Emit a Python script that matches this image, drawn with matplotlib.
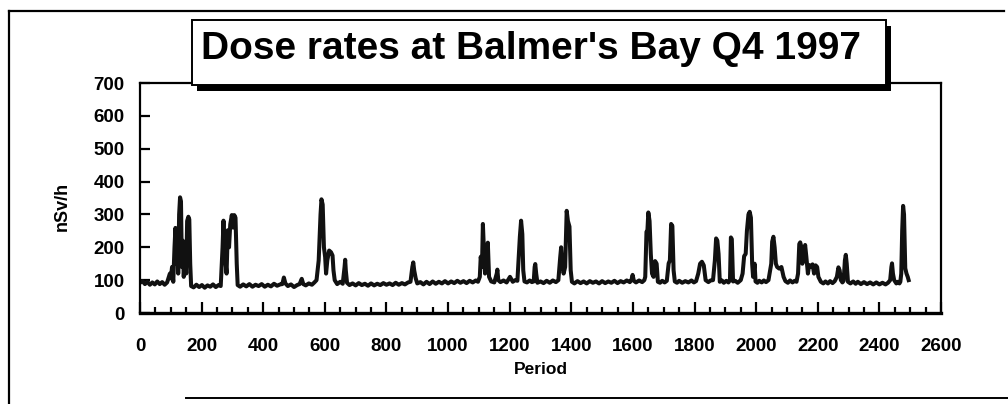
import matplotlib
matplotlib.use('Agg')
import matplotlib.pyplot as plt
from matplotlib.patches import Rectangle
from matplotlib.lines import Line2D
from matplotlib.ticker import MultipleLocator

plt.rcParams['font.family'] = ['Liberation Sans', 'DejaVu Sans']

# values (period, dose rate in nSv/h)
period = [
    # 0 - 330
    0, 8, 16, 24, 32, 40, 48, 56, 64, 72, 80, 88,
    97, 100, 104, 108, 112, 115, 118, 121, 124, 127, 130, 133, 136, 139, 142,
    146, 150, 153, 157, 160, 163, 166,
    174, 183, 192, 201, 210, 219, 228, 237, 246, 255, 262,
    264, 268, 271, 274, 278, 281, 285, 289, 293, 298, 302, 306, 310, 314, 317,
    # 325 - 1100
    325, 335, 345, 355, 365, 375, 385, 395, 405, 415, 425, 435, 445, 455,
    462, 467, 472, 480, 490, 500, 510, 518, 525, 530, 538, 548, 558, 566,
    573, 580, 586, 589, 593, 597, 601, 604, 608, 614, 620, 625, 628, 632,
    640, 650, 658, 664, 666, 668, 672, 680, 690, 700, 710, 720, 730, 740,
    750, 760, 770, 780, 790, 800, 810, 820, 830, 840, 850, 860, 870, 878,
    884, 887, 890, 895, 900, 910, 920, 930, 940, 950, 960, 970, 980, 990,
    1000, 1010, 1020, 1030, 1040, 1050, 1060, 1070, 1080, 1090, 1097,
    # 1100 - 1640
    1103, 1106, 1110, 1113, 1116, 1120, 1125, 1129, 1133, 1140, 1150, 1158,
    1160, 1163, 1170, 1180, 1190, 1201, 1210, 1218, 1225, 1230, 1233, 1237,
    1241, 1244, 1248, 1256, 1265, 1272, 1278, 1281, 1283, 1286, 1290, 1300,
    1310, 1320, 1330, 1340, 1350, 1358, 1364, 1367, 1370, 1375, 1380, 1385,
    1389, 1394, 1398, 1402, 1410, 1420, 1430, 1440, 1450, 1460, 1470, 1480,
    1490, 1500, 1510, 1520, 1530, 1540, 1550, 1560, 1570, 1580, 1590, 1595,
    1599, 1603, 1610, 1620, 1630, 1637,
    # 1640 - 2100
    1640, 1644, 1647, 1650, 1654, 1658, 1662, 1667, 1672, 1677, 1681, 1688,
    1695, 1703, 1710, 1716, 1720, 1724, 1728, 1732, 1736, 1743, 1750, 1760,
    1770, 1780, 1790, 1798, 1805, 1812, 1818, 1824, 1830, 1836, 1845, 1852,
    1860, 1866, 1870, 1874, 1878, 1882, 1889, 1895, 1903, 1910, 1915, 1918,
    1921, 1925, 1932, 1940, 1950, 1956, 1961, 1966, 1970, 1975, 1979, 1983,
    1987, 1990, 1995, 1998, 2004, 2010, 2018, 2025, 2032, 2040, 2049, 2052,
    2056, 2060, 2064, 2068, 2075, 2082, 2089, 2095,
    # 2100 - 2495
    2103, 2110, 2118, 2125, 2131, 2136, 2140, 2143, 2147, 2150, 2155, 2159,
    2163, 2168, 2172, 2178, 2183, 2188, 2193, 2198, 2202, 2210, 2218, 2225,
    2233, 2240, 2248, 2255, 2262, 2267, 2271, 2275, 2280, 2284, 2288, 2291,
    2294, 2298, 2306, 2315, 2323, 2330, 2340, 2350, 2360, 2370, 2380, 2390,
    2400, 2410, 2420, 2428, 2435, 2439, 2441, 2444, 2448, 2455, 2460, 2465,
    2468, 2471, 2474, 2477, 2480, 2484, 2488, 2492, 2495,
]
dose = [
    # 0 - 330
    92, 97, 88, 95, 86, 93, 87, 96, 88, 94, 86, 93,
    120, 105, 140, 95, 200, 259, 150, 253, 120, 300, 352, 340, 140, 220, 110,
    180, 120, 280, 293, 285, 150, 82,
    78, 86, 79, 85, 77, 84, 80, 87, 79, 85, 82,
    120, 200, 281, 180, 151, 120, 252, 200, 270, 298, 260, 298, 290, 150, 85,
    # 325 - 1100
    80, 87, 81, 88, 80, 86, 82, 88, 80, 86, 81, 89, 83, 87,
    88, 108, 90, 82, 87, 79, 85, 88, 104, 88, 84, 90, 86, 93,
    100, 160, 300, 346, 330, 200, 170, 120, 160, 190, 185, 175, 130, 100,
    88, 95, 89, 140, 162, 130, 92, 85, 90, 84, 91, 85, 89, 83,
    90, 84, 89, 85, 91, 86, 90, 85, 92, 86, 91, 87, 93, 95,
    140, 154, 130, 105, 90, 94, 87, 95, 88, 96, 89, 95, 90, 97,
    90, 96, 91, 98, 92, 97, 91, 98, 93, 99, 95,
    # 1100 - 1640
    110, 171, 140, 271, 200, 120, 150, 214, 110, 96, 93, 120,
    132, 100, 94, 99, 93, 110, 95, 100, 98, 180, 232, 281,
    240, 130, 96, 93, 99, 94, 96, 140, 149, 120, 92, 96,
    91, 98, 92, 99, 94, 100, 170, 200, 150, 120, 140, 311,
    280, 263, 130, 95, 90, 97, 91, 96, 90, 97, 92, 96,
    90, 97, 91, 96, 92, 98, 91, 97, 93, 99, 94, 100,
    116, 98, 93, 99, 94, 100,
    # 1640 - 2100
    110, 247, 250, 306, 280, 180, 120, 110, 158, 150, 95, 92,
    98, 93, 98, 151, 160, 271, 265, 130, 96, 92, 98, 92,
    97, 93, 99, 93, 97, 120, 150, 156, 145, 100, 94, 99,
    100, 160, 227, 220, 180, 95, 99, 92, 98, 93, 100, 230,
    225, 96, 98, 92, 100, 120, 173, 180, 250, 300, 308, 290,
    150, 110, 150, 96, 92, 98, 93, 99, 94, 100, 150, 217,
    232, 200, 150, 140, 135, 140, 110, 97,
    # 2100 - 2495
    92, 99, 93, 98, 95, 120, 210, 215, 200, 150, 180, 207,
    170, 120, 146, 140, 148, 120, 145, 140, 110, 95, 90, 96,
    90, 97, 91, 97, 110, 139, 130, 100, 93, 98, 160, 177,
    150, 95, 90, 96, 89, 95, 88, 94, 88, 93, 87, 93,
    87, 92, 87, 92, 100, 140, 151, 120, 100, 90, 95, 90,
    95, 120, 250, 326, 300, 136, 120, 110, 100,
]
assert len(period) == len(dose)

y_ticks = [0, 100, 200, 300, 400, 500, 600, 700]
x_ticks = list(range(0, 2601, 200))
title = "Dose rates at Balmer's Bay Q4 1997"

W, H = 1008, 404
fig = plt.figure(figsize=(W / 100, H / 100), dpi=100)


def fx(x):
    return x / W


def fy(y):
    return 1 - y / H


ax = fig.add_axes([fx(140), fy(313), fx(941) - fx(140), fy(83) - fy(313)])
ax.plot(period, dose, color='#111111', lw=2.9)

ax.set_xlim(0, 2600)
ax.set_ylim(0, 700)
ax.set_xticks(x_ticks)
ax.set_yticks(y_ticks)
ax.xaxis.set_minor_locator(MultipleLocator(50))
ax.tick_params(axis='x', which='major', direction='in', length=8, width=1.6,
               pad=18, labelsize=13.5, top=False)
ax.tick_params(axis='x', which='minor', direction='in', length=4.5, width=1.6,
               top=False)
ax.tick_params(axis='y', direction='in', length=7, width=1.6, pad=11,
               labelsize=13.5, right=False)
for lab in ax.get_xticklabels() + ax.get_yticklabels():
    lab.set_fontweight('bold')
for side in ['left', 'right', 'top']:
    ax.spines[side].set_linewidth(1.6)
ax.spines['bottom'].set_linewidth(2.4)

ax.set_xlabel('Period', fontsize=12.5, fontweight='bold', labelpad=5)
fig.text(fx(62), fy(206), 'nSv/h', rotation=90, fontsize=13,
         fontweight='bold', ha='center', va='center')

# title box with a drop shadow
bx0, by0, bx1, by1 = 192, 20, 886, 85
fig.patches.append(Rectangle((fx(bx0 + 5), fy(by1 + 6)), fx(bx1 - bx0),
                             fy(by0) - fy(by1), transform=fig.transFigure,
                             facecolor='black', edgecolor='none', zorder=2))
fig.patches.append(Rectangle((fx(bx0), fy(by1)), fx(bx1 - bx0),
                             fy(by0) - fy(by1), transform=fig.transFigure,
                             facecolor='white', edgecolor='black', lw=1.4,
                             zorder=3))
fig.text(fx(531), fy(49), title, fontsize=28, fontweight='bold',
         ha='center', va='center', zorder=4)

# outer frame lines of the scanned page
fig.lines.append(Line2D([fx(9), fx(1004)], [fy(11), fy(11)],
                        transform=fig.transFigure, color='black', lw=1.6))
fig.lines.append(Line2D([fx(9), fx(9)], [fy(11), fy(404)],
                        transform=fig.transFigure, color='black', lw=1.6))
fig.lines.append(Line2D([fx(186), fx(1008)], [fy(398), fy(398)],
                        transform=fig.transFigure, color='black', lw=1.4))

fig.savefig('out.png', dpi=100)
plt.close(fig)
